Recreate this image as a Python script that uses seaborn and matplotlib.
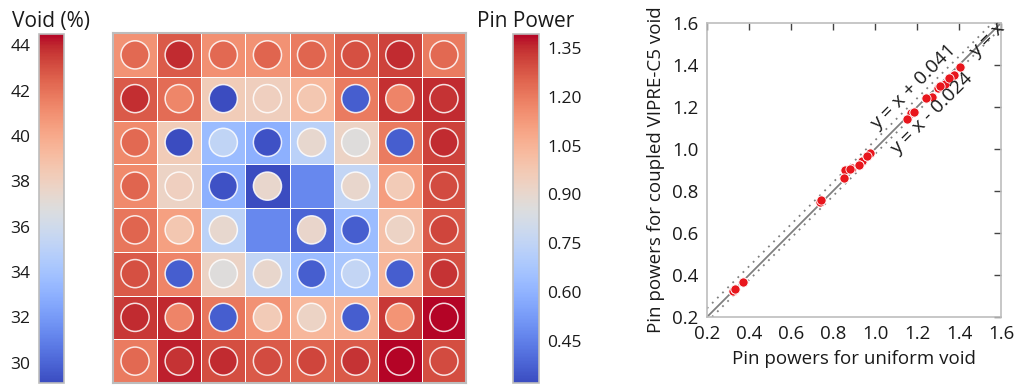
import numpy as np
import matplotlib
matplotlib.use("Agg")
import matplotlib.pyplot as plt
import matplotlib.ticker as mticker
import seaborn as sns

# Coolant void fraction per pin cell (%), 8x8 lattice, row 0 at top
void_pct = [
    [40.9, 42.7, 41.0, 40.9, 41.7, 42.6, 43.4, 41.7],
    [42.7, 42.2, 38.3, 38.1, 39.4, 41.7, 43.8, 43.9],
    [41.2, 38.3, 33.6, 33.0, 35.0, 37.8, 41.7, 43.4],
    [41.2, 37.8, 33.0, 29.1, 31.3, 35.4, 40.5, 43.1],
    [41.9, 40.4, 35.1, 31.3, 30.0, 33.6, 38.9, 42.7],
    [42.7, 41.4, 37.8, 35.4, 33.6, 34.2, 39.4, 43.0],
    [43.6, 44.0, 41.9, 40.9, 39.4, 39.6, 43.6, 44.5],
    [41.7, 44.1, 43.1, 42.7, 42.5, 42.7, 44.5, 43.1],
]

# Normalised pin powers, uniform-void calculation (NaN = water rod)
nan = np.nan
power_uniform = [
    [1.244, 1.374, 1.244, 1.271, 1.271, 1.300, 1.374, 1.244],
    [1.370, 1.170, 0.322, 0.937, 0.974, 0.371, 1.186, 1.352],
    [1.244, 0.322, 0.738, 0.334, 0.858, 0.852, 0.371, 1.374],
    [1.271, 0.937, 0.334, 0.882, nan,   0.882, 0.961, 1.311],
    [1.271, 0.974, 0.858, nan,   0.890, 0.371, 0.923, 1.334],
    [1.300, 0.371, 0.852, 0.882, 0.371, 0.743, 0.371, 1.352],
    [1.374, 1.186, 0.371, 0.961, 0.923, 0.371, 1.151, 1.407],
    [1.244, 1.352, 1.374, 1.311, 1.334, 1.352, 1.407, 1.311],
]

# Normalised pin powers, coupled VIPRE-C5 void calculation
power_coupled = [
    [1.241, 1.352, 1.241, 1.249, 1.249, 1.289, 1.352, 1.241],
    [1.350, 1.171, 0.322, 0.944, 0.981, 0.367, 1.175, 1.338],
    [1.241, 0.322, 0.749, 0.335, 0.899, 0.862, 0.367, 1.352],
    [1.249, 0.944, 0.335, 0.903, nan,   0.903, 0.965, 1.300],
    [1.249, 0.981, 0.899, nan,   0.910, 0.367, 0.925, 1.310],
    [1.289, 0.367, 0.862, 0.903, 0.367, 0.759, 0.367, 1.338],
    [1.352, 1.175, 0.367, 0.965, 0.925, 0.367, 1.141, 1.392],
    [1.241, 1.338, 1.352, 1.300, 1.310, 1.338, 1.392, 1.300],
]

void_ticks = [30, 32, 34, 36, 38, 40, 42, 44]
power_ticks = [0.45, 0.60, 0.75, 0.90, 1.05, 1.20, 1.35]
axis_ticks = [0.2, 0.4, 0.6, 0.8, 1.0, 1.2, 1.4, 1.6]
upper_offset = 0.041
lower_offset = -0.024

sns.set_style("white")
plt.rcParams['font.family'] = ['Open Sans', 'DejaVu Sans']
plt.rcParams['text.color'] = '#1a1a1a'
plt.rcParams['axes.labelcolor'] = '#1a1a1a'

W, H = 1029, 386
fig = plt.figure(figsize=(W / 100, H / 100), dpi=100)
ax_vcb = fig.add_axes([39 / W, 1 - 383 / H, 25 / W, 349 / H])
ax_map = fig.add_axes([113 / W, 1 - 383 / H, 353 / W, 350 / H])
ax_pcb = fig.add_axes([513 / W, 1 - 383 / H, 26 / W, 349 / H])
ax_sc = fig.add_axes([707 / W, 1 - 317 / H, 294 / W, 294 / H])

frame_color = '#bdbdbd'

# Void map as cell background
void = np.array(void_pct)
sns.heatmap(void, ax=ax_map, cmap='coolwarm', vmin=void.min(), vmax=void.max(),
            cbar_ax=ax_vcb, linewidths=0.7, linecolor='white',
            xticklabels=False, yticklabels=False,
            cbar_kws={'ticks': void_ticks})
for sp in ax_map.spines.values():
    sp.set_visible(True)
    sp.set_color(frame_color)
    sp.set_linewidth(1.5)

vcb = ax_map.collections[0].colorbar
vcb.outline.set_edgecolor(frame_color)
vcb.outline.set_linewidth(1.2)
ax_vcb.yaxis.set_ticks_position('left')
ax_vcb.tick_params(length=0, labelsize=12.5, pad=6, colors='#1a1a1a')
ax_vcb.set_title('Void (%)', fontsize=15, pad=5)

# Pin powers drawn as circles on top of the void map
P = np.array(power_coupled, dtype=float)
rows, cols = np.where(~np.isnan(P))
pins = ax_map.scatter(cols + 0.5, rows + 0.5, c=P[rows, cols], cmap='coolwarm',
                      vmin=np.nanmin(P), vmax=np.nanmax(P), s=410,
                      edgecolors=(1, 1, 1, 0.85), linewidths=1.1, zorder=3)
pcb = fig.colorbar(pins, cax=ax_pcb, ticks=power_ticks, format='%.2f')
pcb.outline.set_edgecolor(frame_color)
pcb.outline.set_linewidth(1.2)
ax_pcb.tick_params(length=0, labelsize=12.5, pad=6, colors='#1a1a1a')
ax_pcb.set_title('Pin Power', fontsize=15, pad=5)

# Uniform vs coupled pin power comparison
U = np.array(power_uniform, dtype=float)
mask = ~np.isnan(U)
xs = np.array([0.2, 1.6])
ax_sc.plot(xs, xs, color='#808080', lw=1.3, zorder=1)
ax_sc.plot(xs, xs + upper_offset, color='#808080', lw=1.3, ls=(0, (1, 3)), zorder=1)
ax_sc.plot(xs, xs + lower_offset, color='#808080', lw=1.3, ls=(0, (1, 3)), zorder=1)
sns.scatterplot(x=U[mask], y=P[mask], ax=ax_sc, color='#e8161d', s=44,
                edgecolor='white', linewidth=0.6, zorder=3)

ax_sc.text(1.181, 1.295, f'y = x + {upper_offset:.3f}',
           rotation=45, rotation_mode='anchor', ha='center', va='center', fontsize=14)
ax_sc.text(1.271, 1.171, f'y = x - {abs(lower_offset):.3f}',
           rotation=45, rotation_mode='anchor', ha='center', va='center', fontsize=14)
ax_sc.text(1.533, 1.52, 'y = x', rotation=45, rotation_mode='anchor',
           ha='center', va='center', fontsize=14, clip_on=False)

ax_sc.set_xlim(0.2, 1.6)
ax_sc.set_ylim(0.2, 1.6)
ax_sc.set_xticks(axis_ticks)
ax_sc.set_yticks(axis_ticks)
ax_sc.xaxis.set_major_formatter(mticker.FormatStrFormatter('%.1f'))
ax_sc.yaxis.set_major_formatter(mticker.FormatStrFormatter('%.1f'))
ax_sc.tick_params(direction='in', top=True, right=True, length=5, width=1,
                  color='#444444', labelcolor='#1a1a1a', labelsize=13.5, pad=6)
for sp in ax_sc.spines.values():
    sp.set_color(frame_color)
    sp.set_linewidth(1.2)
ax_sc.set_xlabel('Pin powers for uniform void', fontsize=13.5, labelpad=5)
ax_sc.set_ylabel('Pin powers for coupled VIPRE-C5 void', fontsize=13.5, labelpad=5)

fig.savefig('out.png', dpi=100)
